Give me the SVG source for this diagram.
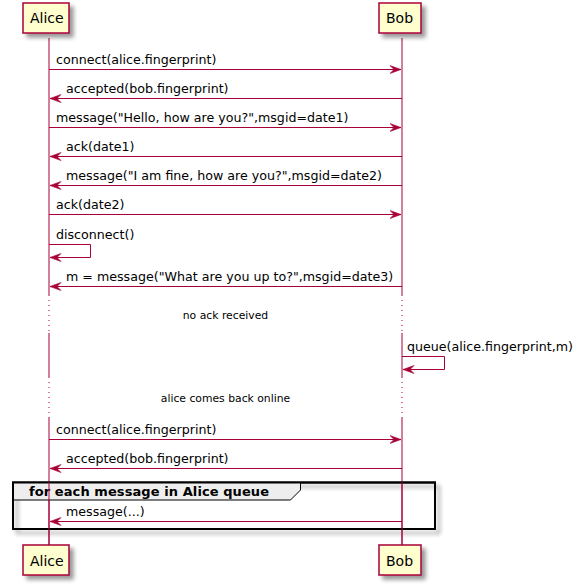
<svg xmlns="http://www.w3.org/2000/svg" width="585" height="585" viewBox="0 0 585 585">
<defs>
<filter id="sh" x="-20%" y="-20%" width="150%" height="150%">
<feGaussianBlur in="SourceAlpha" stdDeviation="2"/>
<feOffset dx="4" dy="4" result="b"/>
<feComponentTransfer><feFuncA type="linear" slope="0.4"/></feComponentTransfer>
<feMerge><feMergeNode/><feMergeNode in="SourceGraphic"/></feMerge>
</filter>
<marker id="ah" viewBox="0 0 12 10" refX="11.5" refY="5" markerWidth="12" markerHeight="10" markerUnits="userSpaceOnUse" orient="auto">
<polygon points="0.5,1 11.5,5 0.5,9 4.5,5" fill="#A80036" stroke="#A80036" stroke-width="0.6" stroke-linejoin="round"/>
</marker>
</defs>
<style>
.ll{stroke:#A80036;stroke-width:1;fill:none}
.dot{stroke:#A80036;stroke-width:1;stroke-dasharray:1,4;fill:none}
.msg{stroke:#A80036;stroke-width:1;fill:none;marker-end:url(#ah)}
.pbox{fill:#FEFECE;stroke:#A80036;stroke-width:1.5}
.pt{font-family:"DejaVu Sans",sans-serif;font-size:14px;fill:#000}
.mt{font-family:"DejaVu Sans",sans-serif;font-size:12.65px;fill:#000}
.dt{font-family:"DejaVu Sans",sans-serif;font-size:10.8px;fill:#000}
.gt{font-family:"DejaVu Sans",sans-serif;font-size:13px;font-weight:bold;fill:#000}
</style>
<rect width="585" height="585" fill="#FFFFFF"/>
<g id="lifelines">
<path class="ll" d="M49,38 V295 M49,333 V377 M49,417 V545"/>
<path class="dot" d="M49,295 V333 M49,377 V417"/>
<path class="ll" d="M402,38 V295 M402,333 V377 M402,417 V545"/>
<path class="dot" d="M402,295 V333 M402,377 V417"/>
</g>
<g id="group-loop">
<rect x="13" y="482.5" width="422" height="46.5" fill="none" stroke="#000" stroke-width="2" filter="url(#sh)"/>
<polygon points="13,482.5 300.5,482.5 300.5,490 290.5,500 13,500" fill="#EEEEEE" stroke="#000" stroke-width="1"/>
<rect x="13" y="482.5" width="422" height="46.5" fill="none" stroke="#000" stroke-width="2"/>
<text class="gt" x="29" y="496" textLength="240" lengthAdjust="spacing">for each message in Alice queue</text>
</g>
<g id="lifelines-over">
<path class="ll" d="M49,482 V545 M402,482 V545"/>
</g>
<g id="Alice-top"><rect class="pbox" x="23" y="3" width="46" height="30" filter="url(#sh)"/><text class="pt" x="30" y="23">Alice</text></g>
<g id="Bob-top"><rect class="pbox" x="379" y="3" width="42" height="30" filter="url(#sh)"/><text class="pt" x="386" y="23">Bob</text></g>
<g id="Alice-bottom"><rect class="pbox" x="23" y="545" width="46" height="30" filter="url(#sh)"/><text class="pt" x="30" y="566">Alice</text></g>
<g id="Bob-bottom"><rect class="pbox" x="379" y="545" width="42" height="30" filter="url(#sh)"/><text class="pt" x="386" y="566">Bob</text></g>
<g id="connectors">
<line class="msg" x1="49" y1="69.5" x2="401" y2="69.5"/>
<line class="msg" x1="402" y1="98.5" x2="50" y2="98.5"/>
<line class="msg" x1="49" y1="127.5" x2="401" y2="127.5"/>
<line class="msg" x1="402" y1="156.5" x2="50" y2="156.5"/>
<line class="msg" x1="402" y1="185.5" x2="50" y2="185.5"/>
<line class="msg" x1="49" y1="214.5" x2="401" y2="214.5"/>
<polyline class="msg" points="49,244.5 90.5,244.5 90.5,257.5 50,257.5"/>
<line class="msg" x1="402" y1="286.5" x2="50" y2="286.5"/>
<polyline class="msg" points="402,356.5 444.5,356.5 444.5,369.5 403,369.5"/>
<line class="msg" x1="49" y1="439.5" x2="401" y2="439.5"/>
<line class="msg" x1="402" y1="468.5" x2="50" y2="468.5"/>
<line class="msg" x1="402" y1="521.5" x2="50" y2="521.5"/>
</g>
<g id="labels">
<text class="mt" x="56" y="64">connect(alice.fingerprint)</text>
<text class="mt" x="66" y="93">accepted(bob.fingerprint)</text>
<text class="mt" x="56" y="122">message("Hello, how are you?",msgid=date1)</text>
<text class="mt" x="66" y="151">ack(date1)</text>
<text class="mt" x="66" y="180">message("I am fine, how are you?",msgid=date2)</text>
<text class="mt" x="56" y="209">ack(date2)</text>
<text class="mt" x="56" y="239">disconnect()</text>
<text class="mt" x="66" y="281">m = message("What are you up to?",msgid=date3)</text>
<text class="dt" x="225.5" y="319" text-anchor="middle">no ack received</text>
<text class="mt" x="407" y="351">queue(alice.fingerprint,m)</text>
<text class="dt" x="225.5" y="402" text-anchor="middle">alice comes back online</text>
<text class="mt" x="56" y="434">connect(alice.fingerprint)</text>
<text class="mt" x="66" y="463">accepted(bob.fingerprint)</text>
<text class="mt" x="66" y="516">message(...)</text>
</g>
</svg>
